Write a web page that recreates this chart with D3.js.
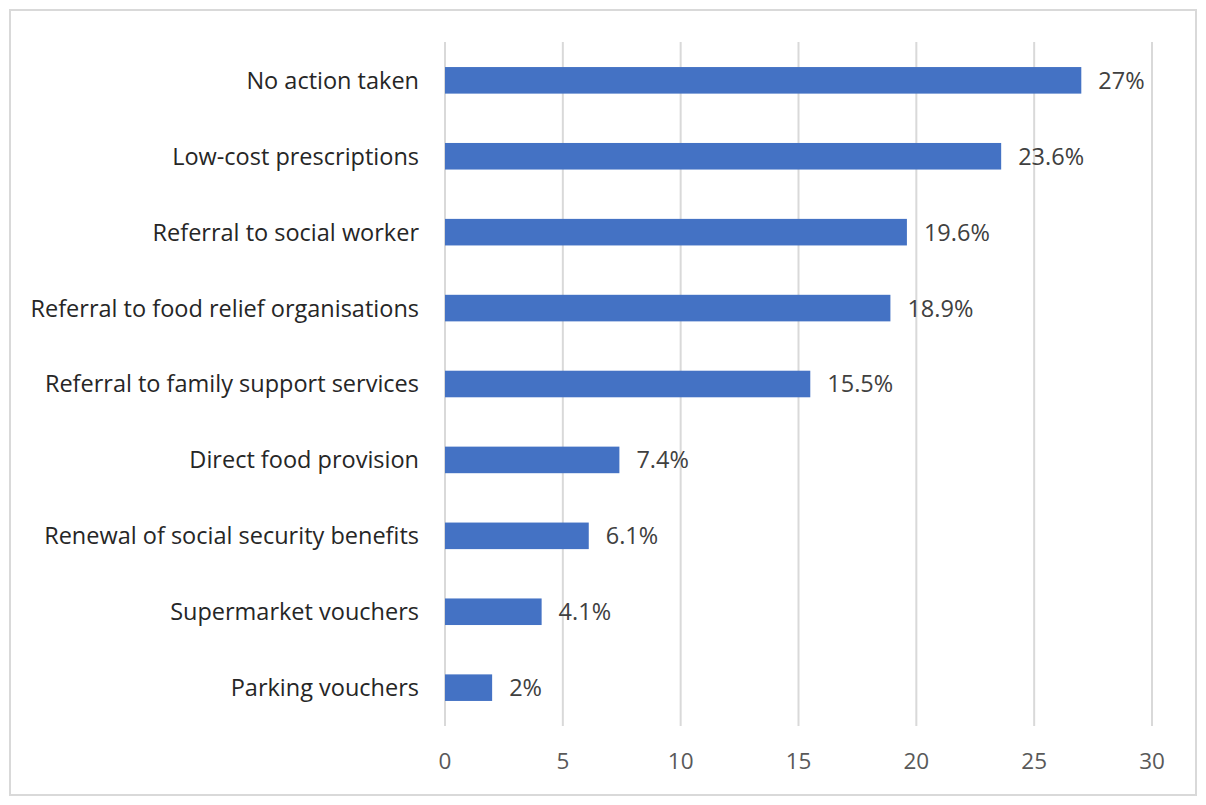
<!DOCTYPE html>
<html>
<head>
<meta charset="utf-8">
<script src="https://cdn.jsdelivr.net/npm/d3@7"></script>
<style>
  body { margin: 0; background: #fff; }
  .cat-label { font-family: 'Open Sans', Lato, sans-serif; font-size: 23.5px; fill: #262626; }
  .val-label { font-family: 'Open Sans', Lato, sans-serif; font-size: 23.5px; fill: #404040; }
  .tick-label { font-family: 'Open Sans', Lato, sans-serif; font-size: 22.5px; fill: #595959; }
</style>
</head>
<body>
<svg class="chart"></svg>
<script>
const categories = [
    'No action taken',
    'Low-cost prescriptions',
    'Referral to social worker',
    'Referral to food relief organisations',
    'Referral to family support services',
    'Direct food provision',
    'Renewal of social security benefits',
    'Supermarket vouchers',
    'Parking vouchers'
]
const values = [27, 23.6, 19.6, 18.9, 15.5, 7.4, 6.1, 4.1, 2]
const valueLabels = ['27%', '23.6%', '19.6%', '18.9%', '15.5%', '7.4%', '6.1%', '4.1%', '2%']
const ticks = [0, 5, 10, 15, 20, 25, 30]

const width = 1206
const height = 805

const svg = d3.select('.chart')
    .attr('width', width)
    .attr('height', height)

const padding = {
    top: 42,
    right: 54,
    bottom: 79,
    left: 445
}

// chart border
svg.append('rect')
    .attr('x', 10)
    .attr('y', 10)
    .attr('width', width - 20)
    .attr('height', height - 20)
    .attr('fill', '#fff')
    .attr('stroke', '#d9d9d9')
    .attr('stroke-width', 2)

const xScale = d3.scaleLinear()
    .domain([0, 30])
    .range([padding.left, width - padding.right])

const yScale = d3.scaleBand()
    .domain(categories)
    .range([padding.top, height - padding.bottom])
    .paddingInner(0.65)
    .paddingOuter(0.33)

// gridlines
svg.selectAll('.grid')
    .data(ticks)
    .enter()
    .append('line')
    .attr('class', 'grid')
    .attr('x1', d => xScale(d))
    .attr('x2', d => xScale(d))
    .attr('y1', padding.top)
    .attr('y2', height - padding.bottom)
    .attr('stroke', '#d9d9d9')
    .attr('stroke-width', 2)

svg.selectAll('.tick-label')
    .data(ticks)
    .enter()
    .append('text')
    .attr('class', 'tick-label')
    .attr('x', d => xScale(d))
    .attr('y', height - padding.bottom + 35)
    .attr('dy', '0.36em')
    .attr('text-anchor', 'middle')
    .text(d => d)

const data = categories.map((c, i) => ({ cat: c, value: values[i], label: valueLabels[i] }))

svg.selectAll('.bar')
    .data(data)
    .enter()
    .append('rect')
    .attr('class', 'bar')
    .attr('x', xScale(0))
    .attr('y', d => yScale(d.cat))
    .attr('width', d => xScale(d.value) - xScale(0))
    .attr('height', yScale.bandwidth())
    .attr('fill', '#4472c4')

svg.selectAll('.val-label')
    .data(data)
    .enter()
    .append('text')
    .attr('class', 'val-label')
    .attr('x', d => xScale(d.value) + 17)
    .attr('y', d => yScale(d.cat) + yScale.bandwidth() / 2)
    .attr('dy', '0.36em')
    .text(d => d.label)

svg.selectAll('.cat-label')
    .data(data)
    .enter()
    .append('text')
    .attr('class', 'cat-label')
    .attr('x', padding.left - 26)
    .attr('y', d => yScale(d.cat) + yScale.bandwidth() / 2)
    .attr('dy', '0.36em')
    .attr('text-anchor', 'end')
    .text(d => d.cat)
</script>
</body>
</html>
